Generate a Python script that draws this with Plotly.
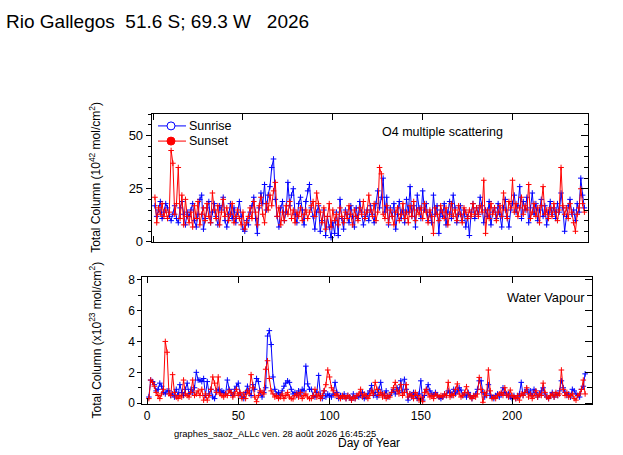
import plotly.graph_objs as go

# day of year (1..240)
days = list(range(1, 241))

# O4 multiple scattering, total column (1e42 mol/cm2)
o4_sunrise = [
    17, 12, 15, 19, 11, 14, 18, 16, 12, 10, 13, 17, 11, 9, 16, 19, 13, 8, 14, 12,
    15, 18, 10, 7, 13, 20, 22, 6, 11, 16, 19, 9, 14, 18, 12, 8, 17, 15, 21, 10,
    7, 13, 18, 11, 16, 9, 14, 19, 12, 6, 5, 10, 8, 14, 17, 21, 11, 4, 16, 23,
    18, 27, 15, 22, 26, 35, 39, 20, 12, 7, 16, 19, 10, 14, 28, 17, 22, 25, 13, 9,
    18, 21, 15, 8, 19, 24, 27, 16, 12, 6, 14, 17, 5, 10, 15, 3, 12, 7, 2, 9,
    4, 14, 3, 20, 11, 6, 15, 13, 9, 17, 12, 7, 16, 11, 19, 14, 8, 12, 15, 10,
    17, 13, 9, 18, 24, 16, 21, 30, 14, 21, 8, 16, 12, 18, 6, 13, 19, 11, 15, 9,
    20, 14, 26, 12, 17, 7, 22, 16, 11, 24, 15, 18, 10, 14, 9, 22, 13, 17, 4, 15,
    12, 18, 8, 14, 19, 11, 22, 16, 9, 13, 17, 10, 15, 7, 12, 3, 14, 18, 11, 16,
    13, 21, 17, 9, 15, 12, 19, 8, 14, 16, 11, 18, 13, 7, 16, 20, 12, 7, 15, 18,
    22, 14, 17, 26, 11, 19, 15, 21, 9, 16, 23, 13, 18, 10, 15, 20, 12, 17, 8, 14,
    19, 13, 16, 11, 18, 14, 23, 16, 5, 12, 17, 20, 13, 15, 10, 18, 14, 30, 22, 16,
]
o4_sunset = [
    21, 9, 16, 13, 18, 12, 15, 11, 14, 43, 37, 13, 18, 35, 11, 22, 8, 20, 12, 9,
    14, 7, 17, 11, 19, 8, 13, 16, 10, 18, 12, 9, 23, 15, 11, 17, 8, 14, 20, 12,
    16, 10, 13, 18, 9, 12, 15, 11, 8, 14, 6, 9, 12, 16, 11, 19, 14, 8, 17, 21,
    13, 9, 18, 15, 22, 17, 24, 28, 12, 16, 8, 14, 10, 17, 13, 19, 11, 15, 9, 14,
    12, 16, 10, 13, 15, 11, 14, 17, 19, 12, 23, 18, 14, 9, 16, 6, 12, 18, 7, 15,
    10, 13, 8, 16, 12, 9, 14, 11, 17, 13, 8, 15, 12, 10, 16, 13, 19, 11, 14, 22,
    15, 12, 18, 10, 14, 35, 32, 13, 11, 17, 9, 15, 12, 8, 14, 16, 10, 13, 18, 11,
    14, 9, 17, 12, 19, 10, 15, 13, 16, 11, 18, 14, 9, 15, 12, 4, 16, 13, 10, 17,
    14, 11, 16, 8, 13, 18, 12, 15, 10, 17, 13, 9, 16, 14, 11, 15, 12, 18, 13, 16,
    12, 17, 14, 29, 4, 15, 11, 18, 13, 16, 10, 14, 17, 12, 23, 15, 11, 19, 16, 29,
    14, 18, 12, 16, 21, 13, 17, 15, 27, 11, 14, 18, 12, 16, 9, 17, 26, 13, 15, 11,
    16, 12, 18, 14, 10, 15, 35, 17, 13, 16, 11, 18, 14, 9, 5, 13, 16, 25, 18, 14,
]

# water vapour, total column (1e23 mol/cm2)
h2o_sunrise = [
    0.4, 1.5, 1.4, 1.2, 0.8, 0.9, 1.3, 1.1, 0.7, 0.6, 0.8, 0.8, 0.5, 0.6, 0.4, 0.9, 0.5, 1.2, 0.7, 0.5,
    0.9, 1.3, 0.6, 0.9, 0.7, 1.0, 2.0, 1.5, 1.5, 1.4, 1.6, 0.5, 1.4, 0.6, 0.9, 0.4, 0.3, 0.8, 0.9, 0.7,
    0.8, 0.7, 0.6, 1.5, 0.9, 0.7, 0.5, 0.9, 1.1, 1.3, 0.6, 0.4, 0.3, 0.7, 1.1, 0.8, 0.5, 1.2, 0.9, 1.6,
    1.4, 0.7, 0.4, 0.7, 1.0, 4.35, 4.7, 3.8, 1.7, 0.9, 0.6, 0.7, 0.5, 0.8, 1.1, 1.3, 1.45, 1.35, 0.9, 0.6,
    0.7, 0.5, 0.8, 0.6, 0.9, 0.8, 2.4, 1.25, 0.9, 0.9, 0.5, 0.4, 0.7, 1.8, 0.5, 0.3, 0.8, 0.4, 0.6, 0.5,
    0.4, 0.6, 1.35, 0.7, 0.3, 0.5, 0.4, 0.6, 0.3, 0.5, 0.4, 0.2, 0.6, 0.3, 0.5, 0.4, 0.5, 0.7, 0.3, 0.4,
    0.6, 0.8, 1.15, 0.5, 0.7, 0.4, 0.9, 1.35, 0.6, 0.5, 0.8, 0.4, 0.5, 0.7, 0.9, 0.6, 1.0, 0.8, 1.45, 0.7,
    1.55, 0.9, 0.2, 0.6, 0.4, 0.7, 0.5, 0.3, 0.6, 1.45, 0.2, 0.5, 0.9, 1.2, 0.8, 0.6, 0.5, 0.7, 0.5, 0.4,
    0.3, 0.4, 0.6, 0.5, 0.8, 0.7, 0.5, 0.9, 0.6, 0.8, 1.0, 0.85, 0.5, 0.6, 0.4, 0.7, 0.5, 0.3, 0.45, 0.6,
    0.9, 1.45, 1.45, 0.7, 0.4, 0.6, 1.2, 0.5, 0.4, 0.3, 0.5, 0.6, 0.4, 0.6, 1.0, 0.7, 0.5, 0.6, 0.4, 0.3,
    0.5, 0.3, 0.4, 0.6, 1.35, 0.5, 0.7, 0.9, 0.6, 0.8, 0.5, 0.9, 0.7, 0.4, 0.6, 0.8, 1.0, 0.6, 0.4, 0.3,
    0.5, 0.7, 0.4, 0.6, 0.5, 0.8, 1.45, 1.0, 0.7, 0.5, 0.6, 0.4, 0.9, 0.8, 0.6, 0.5, 0.4, 0.9, 1.1, 1.9,
]
h2o_sunset = [
    0.3, 1.5, 1.35, 1.1, 0.7, 0.5, 0.3, 0.6, 0.9, 4.0, 3.3, 0.6, 0.5, 1.85, 0.7, 0.4, 0.3, 0.5, 0.4, 1.5,
    0.6, 0.5, 0.4, 0.7, 1.5, 0.5, 0.6, 0.8, 0.5, 0.9, 0.2, 0.6, 0.2, 0.5, 0.9, 1.7, 1.3, 0.7, 1.7, 0.6,
    0.5, 0.4, 0.6, 0.5, 0.8, 0.7, 0.4, 0.6, 0.9, 0.5, 0.7, 0.3, 0.6, 0.3, 0.8, 0.6, 1.85, 1.0, 0.4, 0.1,
    0.5, 0.8, 0.7, 0.6, 2.2, 2.75, 1.6, 0.8, 0.6, 0.4, 0.5, 0.3, 0.4, 0.6, 0.3, 0.5, 0.7, 0.4, 0.3, 0.28,
    0.5, 0.6, 0.4, 0.7, 0.3, 0.5, 0.6, 0.4, 0.3, 0.3, 0.5, 0.9, 0.4, 0.6, 0.3, 0.5, 0.8, 1.2, 2.15, 1.7,
    1.0, 0.8, 0.5, 0.6, 0.4, 0.3, 0.5, 0.4, 0.3, 0.5, 0.4, 0.2, 0.4, 0.3, 0.5, 0.6, 0.9, 0.4, 0.6, 0.5,
    0.3, 0.5, 0.8, 0.6, 1.35, 0.9, 0.5, 0.7, 0.4, 0.6, 0.3, 0.5, 0.4, 0.7, 1.0, 1.35, 0.8, 0.6, 1.2, 0.5,
    0.7, 1.2, 0.4, 0.6, 0.5, 0.3, 0.7, 0.5, 0.2, 0.4, 0.1, 0.7, 0.9, 0.6, 0.4, 0.5, 0.3, 0.6, 0.5, 0.4,
    0.5, 0.4, 0.6, 0.5, 1.35, 0.4, 0.6, 0.5, 0.9, 1.25, 0.6, 0.4, 0.5, 0.7, 1.07, 0.6, 0.4, 0.3, 0.5, 0.4,
    0.6, 1.67, 0.9, 0.06, 0.7, 0.5, 2.15, 0.8, 0.3, 0.4, 0.3, 0.5, 0.6, 0.7, 0.5, 1.0, 0.6, 0.4, 0.85, 0.5,
    0.4, 0.3, 0.5, 0.2, 0.6, 0.5, 0.7, 1.0, 0.4, 0.6, 0.3, 0.5, 0.8, 0.4, 0.6, 0.5, 1.3, 0.7, 0.4, 0.3,
    0.5, 0.6, 0.4, 0.7, 0.5, 0.6, 2.15, 0.9, 0.5, 0.7, 0.4, 0.5, 0.6, 0.3, 0.2, 0.5, 0.6, 0.9, 1.5, 0.6,
]

legend_names = ["Sunrise", "Sunset"]

# the photographed page comes out squeezed to 455 rows from a 463-row page,
# so the figure is made 463 high and laid out on a 455-row grid
REF_W, REF_H = 623, 455
W, H = 623, 463
FONT = "Liberation Sans, Arial, sans-serif"
BLUE = "#0000ff"
RED = "#ff0000"


def px_x(p):
    return p / REF_W


def px_y(p):
    return 1 - p / REF_H


def series(x, y, color, xa, ya):
    return go.Scatter(
        x=x, y=y, mode="lines+markers", xaxis=xa, yaxis=ya, showlegend=False,
        line=dict(color=color, width=1),
        marker=dict(symbol="cross-thin", size=4, color=color,
                    line=dict(width=1, color=color)),
    )


fig = go.Figure()

# top panel : O4
fig.add_trace(series(days, o4_sunrise, BLUE, "x2", "y2"))
fig.add_trace(series(days, o4_sunset, RED, "x2", "y2"))
# bottom panel : water vapour
fig.add_trace(series(days, h2o_sunrise, BLUE, "x", "y"))
fig.add_trace(series(days, h2o_sunset, RED, "x", "y"))

# dummy traces for the right-side inner tick axes
fig.add_trace(go.Scatter(x=[None], y=[None], xaxis="x2", yaxis="y3", showlegend=False))
fig.add_trace(go.Scatter(x=[None], y=[None], xaxis="x", yaxis="y4", showlegend=False))

top_dom = [px_y(240), px_y(110.7)]
bot_dom = [px_y(404), px_y(275)]
top_xdom = [px_x(151.7), px_x(588)]
bot_xdom = [px_x(142.3), px_x(591.7)]

xcommon = dict(showline=True, linecolor="black", linewidth=1, mirror="ticks",
               ticks="inside", ticklen=6, tickcolor="black", showgrid=False,
               zeroline=False, tick0=0, dtick=50)
ycommon = dict(showline=True, linecolor="black", linewidth=1, mirror=True,
               ticks="outside", ticklen=5, tickcolor="black", showgrid=False,
               zeroline=False, tick0=0)
rcommon = dict(showline=False, ticks="inside", tickcolor="black", showgrid=False,
               zeroline=False, showticklabels=False, side="right", tick0=0)

fig.update_layout(
    width=W, height=H,
    margin=dict(l=0, r=0, t=0, b=0),
    paper_bgcolor="white", plot_bgcolor="white",
    showlegend=False,
    font=dict(family=FONT, size=12, color="black"),
    xaxis=dict(xcommon, domain=bot_xdom, range=[-2.6, 243.6], anchor="y",
               tickfont=dict(size=12)),
    yaxis=dict(ycommon, domain=bot_dom, range=[-0.08, 8.2], anchor="x", dtick=2,
               ticklen=4, tickfont=dict(size=12),
               minor=dict(dtick=1, ticks="outside", ticklen=3, tickcolor="black")),
    xaxis2=dict(xcommon, domain=top_xdom, range=[-0.8, 242], anchor="y2",
                showticklabels=False),
    yaxis2=dict(ycommon, domain=top_dom, range=[0, 60.3], anchor="x2", dtick=25,
                tickfont=dict(size=13),
                minor=dict(dtick=5, ticks="outside", ticklen=3, tickcolor="black")),
    yaxis3=dict(rcommon, overlaying="y2", anchor="x2", range=[0, 60.3], dtick=25,
                ticklen=7, minor=dict(dtick=5, ticks="inside", ticklen=4, tickcolor="black")),
    yaxis4=dict(rcommon, overlaying="y", anchor="x", range=[-0.08, 8.2], dtick=2,
                ticklen=7, minor=dict(dtick=1, ticks="inside", ticklen=5, tickcolor="black")),
)

# hand-drawn legend in the top panel
shapes = []
annotations = []
for name, color, filled, yc in zip(legend_names, [BLUE, RED], [False, True], [123, 138.3]):
    shapes.append(dict(type="line", xref="paper", yref="paper",
                       x0=px_x(158), x1=px_x(186), y0=px_y(yc), y1=px_y(yc),
                       line=dict(color=color, width=1)))
    shapes.append(dict(type="circle", xref="paper", yref="paper",
                       xsizemode="pixel", ysizemode="pixel",
                       xanchor=px_x(171), yanchor=px_y(yc),
                       x0=-4, x1=4, y0=-4, y1=4,
                       line=dict(color=color, width=1),
                       fillcolor=color if filled else "white"))
    annotations.append(dict(text=name, x=px_x(187), y=px_y(yc), xanchor="left",
                            yanchor="middle", font=dict(size=12.5)))

annotations += [
    dict(text="Rio Gallegos\u00a0\u00a051.6 S; 69.3 W\u00a0\u00a0\u00a02026",
         x=px_x(4), y=px_y(18), xanchor="left", yanchor="middle", font=dict(size=19)),
    dict(text="O4 multiple scattering", x=px_x(380), y=px_y(129),
         xanchor="left", yanchor="middle", font=dict(size=12.5)),
    dict(text="Water Vapour", x=px_x(505), y=px_y(296),
         xanchor="left", yanchor="middle", font=dict(size=12.8)),
    dict(text="Total Column (10<sup>42</sup> mol/cm<sup>2</sup>)", textangle=-90,
         x=px_x(95), y=(top_dom[0] + top_dom[1]) / 2, xanchor="center",
         yanchor="middle", font=dict(size=12)),
    dict(text="Total Column (x10<sup>23</sup> mol/cm<sup>2</sup>)", textangle=-90,
         x=px_x(95), y=(bot_dom[0] + bot_dom[1]) / 2, xanchor="center",
         yanchor="middle", font=dict(size=12)),
    dict(text="graphes_saoz_ALLc ven. 28 août 2026 16:45:25", x=px_x(172),
         y=px_y(433), xanchor="left", yanchor="middle", font=dict(size=9.4)),
    dict(text="Day of Year", x=px_x(336), y=px_y(443), xanchor="left",
         yanchor="middle", font=dict(size=12)),
]
for a in annotations:
    a.update(xref="paper", yref="paper", showarrow=False)
fig.update_layout(annotations=annotations, shapes=shapes)

# drop the browser's default 8px body margin so the figure sits at (0, 0)
fig.write_html("out.html", config={"displayModeBar": False},
               post_script="document.body.style.margin='0';")
